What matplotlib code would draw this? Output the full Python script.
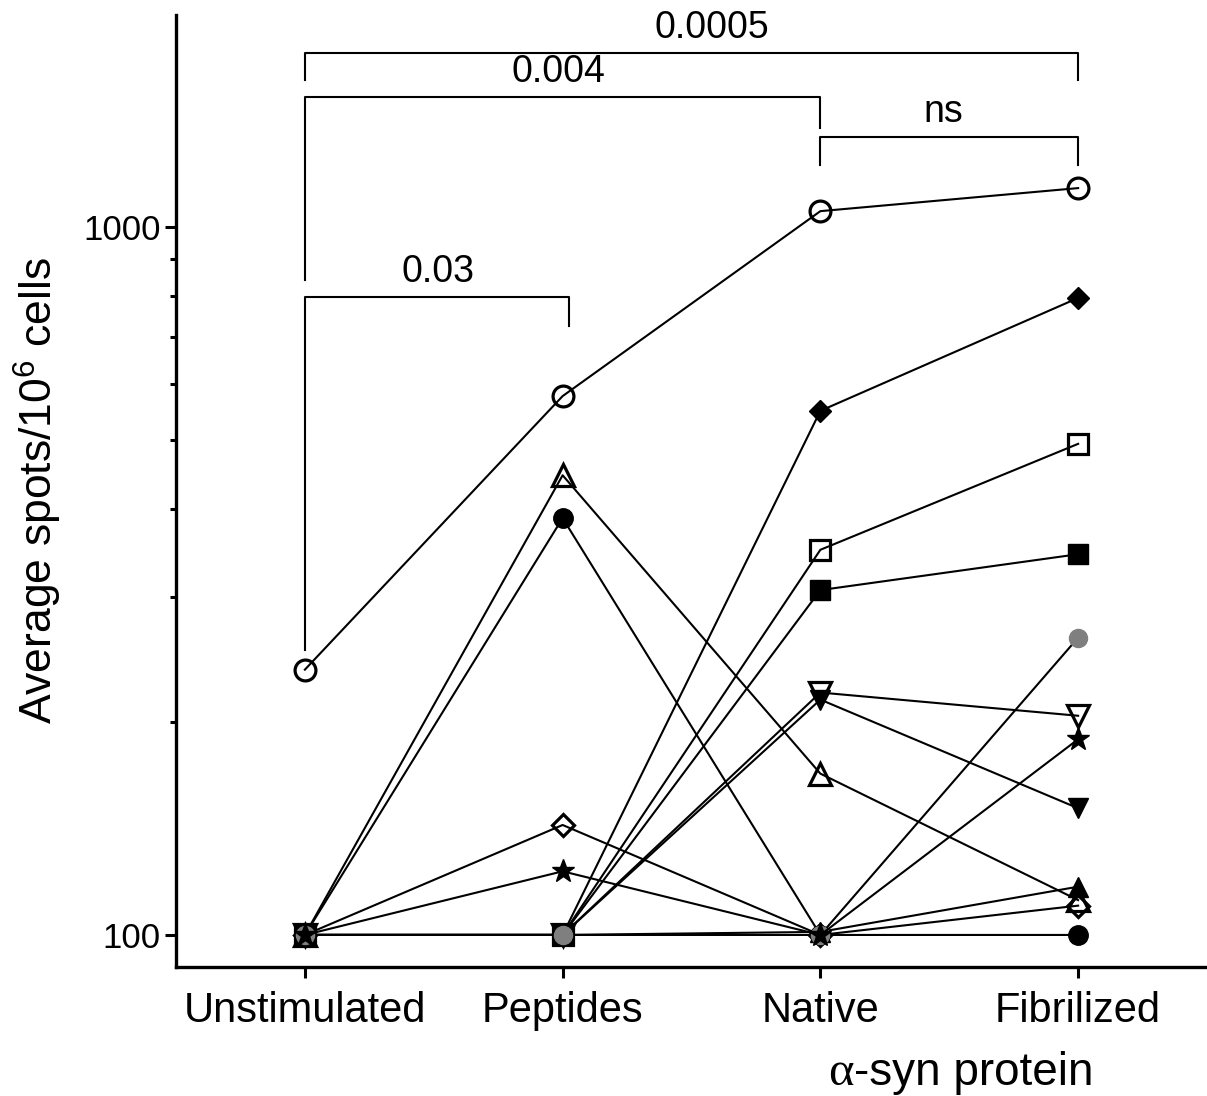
import matplotlib.pyplot as plt
from matplotlib.ticker import FixedLocator, NullFormatter

plt.rcParams['font.family'] = ['Liberation Sans', 'DejaVu Sans']
plt.rcParams['mathtext.fontset'] = 'custom'
plt.rcParams['mathtext.rm'] = 'Liberation Sans'

groups = ['Unstimulated', 'Peptides', 'Native', 'Fibrilized']

# one donor per list: Unstimulated, Peptides, Native, Fibrilized
circle_open = [237, 577, 1053, 1135]
tri_open = [100, 446, 169, 112]
circle_black = [100, 388, 100, 100]
diamond_open = [100, 143, 100, 110]
star = [100, 123, 100, 189]
diamond_black = [100, 100, 550, 794]
square_open = [100, 100, 350, 494]
square_black = [100, 100, 307, 345]
tri_down_open = [100, 100, 220, 204]
tri_down_black = [100, 100, 215, 151]
tri_black = [100, 100, 101, 117]
circle_grey = [100, 100, 100, 263]

# (left group, right group, p label)
comparisons = [(0, 3, '0.0005'), (0, 2, '0.004'), (2, 3, 'ns'), (0, 1, '0.03')]

fig = plt.figure(figsize=(12.07, 10.96), dpi=100)
ax = fig.add_axes([176 / 1207, 1 - 967 / 1096, 1 - 176 / 1207, (967 - 15) / 1096])

x = list(range(len(groups)))
lw = 1.5
mew = 2.3

ax.plot(x, tri_down_black, color='black', lw=lw, marker='v', ms=14, mfc='black', mec='black')
ax.plot(x, tri_black, color='black', lw=lw, marker='^', ms=14, mfc='black', mec='black')
ax.plot(x, circle_black, color='black', lw=lw, marker='o', ms=14, mfc='black', mec='black')
ax.plot(x, square_open, color='black', lw=lw, marker='s', ms=14, mfc='none', mec='black', mew=mew)
ax.plot(x, diamond_black, color='black', lw=lw, marker='D', ms=11, mfc='black', mec='black')
ax.plot(x, tri_down_open, color='black', lw=lw, marker='v', ms=16, mfc='none', mec='black', mew=mew)
ax.plot(x, tri_open, color='black', lw=lw, marker='^', ms=16, mfc='none', mec='black', mew=mew)
ax.plot(x, diamond_open, color='black', lw=lw, marker='D', ms=11, mfc='none', mec='black', mew=mew)
ax.plot(x, square_black, color='black', lw=lw, marker='s', ms=14.5, mfc='black', mec='black')
ax.plot(x, circle_grey, color='black', lw=lw, marker='o', ms=13, mfc='#7f7f7f', mec='#7f7f7f')
ax.plot(x, star, color='black', lw=lw, marker='*', ms=17, mfc='black', mec='black')
ax.plot(x, circle_open, color='black', lw=lw, marker='o', ms=15, mfc='none', mec='black', mew=mew)

ax.set_yscale('log')
ax.set_ylim(90.1, 1993)
ax.set_xlim(-0.5, 3.5)

ax.yaxis.set_major_locator(FixedLocator([100, 1000]))
ax.yaxis.set_minor_locator(FixedLocator([200, 300, 400, 500, 600, 700, 800, 900]))
ax.yaxis.set_minor_formatter(NullFormatter())
ax.set_yticklabels(['100', '1000'])
ax.set_xticks(x)
ax.set_xticklabels(groups)

for s in ['top', 'right']:
    ax.spines[s].set_visible(False)
for s in ['left', 'bottom']:
    ax.spines[s].set_linewidth(2.4)
ax.tick_params(axis='both', which='major', direction='out', length=8, width=2.2, labelsize=25, pad=3)
ax.tick_params(axis='y', which='minor', direction='out', length=4, width=2.2)
ax.tick_params(axis='x', which='major', length=8, labelsize=30, pad=9)

fig.text(38 / 1207, 1 - 490 / 1096, r'Average spots/10$^6$ cells', fontsize=32, rotation=90,
         ha='center', va='center')
fig.text(828 / 1207, 1 - 1073 / 1096, '\u03b1', fontsize=35, family=['Liberation Serif'], ha='left', va='center')
fig.text(854 / 1207, 1 - 1073 / 1096, '-syn protein', fontsize=33, ha='left', va='center')

# significance brackets: bar height, left leg end, right leg end (data units)
brackets = {
    '0.0005': (1761, 1613, 1613),
    '0.004': (1526, 842, 1380),
    'ns': (1340, 1223, 1223),
    '0.03': (796, 253, 725),
}
label_shift = {'0.0005': 15, '0.004': -3, 'ns': -4, '0.03': 1}
for a, b, lab in comparisons:
    top, yl, yr = brackets[lab]
    xb = b + (0.025 if lab == '0.03' else 0)
    ax.plot([a, a, xb, xb], [yl, top, top, yr], color='black', lw=1.5, clip_on=False)
    ax.annotate(lab, ((a + xb) / 2, top), xytext=(label_shift[lab], 5), textcoords='offset points',
                ha='center', va='bottom', fontsize=27)

fig.savefig('out.png', dpi=100)
